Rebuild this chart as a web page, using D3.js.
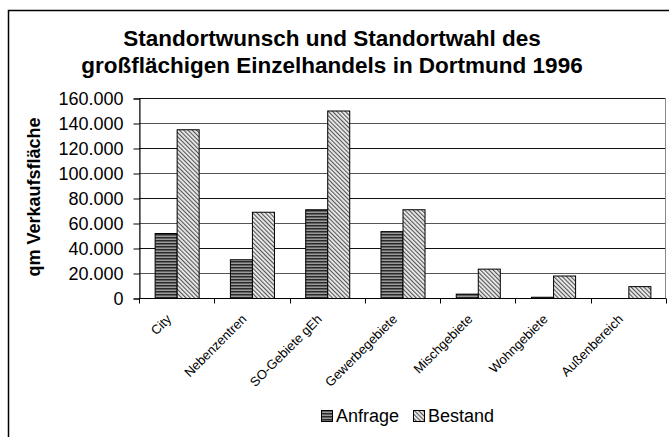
<!DOCTYPE html>
<html>
<head>
<meta charset="utf-8">
<script src="https://cdn.jsdelivr.net/npm/d3@7"></script>
<style>
  body { margin: 0; background: #fff; }
  svg { display: block; font-family: "Liberation Sans", Arial, sans-serif; }
</style>
</head>
<body>
<script>
// data
var categories = ["City", "Nebenzentren", "SO-Gebiete gEh", "Gewerbegebiete", "Mischgebiete", "Wohngebiete", "Außenbereich"];
var seriesNames = ["Anfrage", "Bestand"];
var anfrage = [52000, 31000, 71000, 53500, 3500, 1000, 0];
var bestand = [135000, 69000, 150000, 71000, 23500, 18000, 9500];
var yTicks = [0, 20000, 40000, 60000, 80000, 100000, 120000, 140000, 160000];

var W = 669, H = 437;
var plot = {left: 139, right: 666, top: 98, bottom: 298};

var svg = d3.select("body").append("svg")
    .attr("width", W)
    .attr("height", H);

var defs = svg.append("defs");

// horizontal stripes for Anfrage
var p1 = defs.append("pattern")
    .attr("id", "patA")
    .attr("patternUnits", "userSpaceOnUse")
    .attr("width", 4).attr("height", 3);
p1.append("rect").attr("width", 4).attr("height", 3).attr("fill", "#9a9a9a");
p1.append("rect").attr("width", 4).attr("height", 1.5).attr("fill", "#2a2a2a");

// fine diagonal hatch for Bestand ("\" direction)
var p2 = defs.append("pattern")
    .attr("id", "patB")
    .attr("patternUnits", "userSpaceOnUse")
    .attr("width", 3).attr("height", 3)
    .attr("patternTransform", "rotate(-45)");
p2.append("rect").attr("width", 3).attr("height", 3).attr("fill", "#ececec");
p2.append("rect").attr("width", 1.1).attr("height", 3).attr("fill", "#555");

var fills = ["url(#patA)", "url(#patB)"];

// outer chart border (runs off the right and bottom)
svg.append("path")
    .attr("d", "M8.5," + (H + 2) + "V10.5H" + (W + 2))
    .attr("fill", "none")
    .attr("stroke", "#000")
    .attr("stroke-width", 1.5);

// title
var title = svg.append("text")
    .attr("text-anchor", "middle")
    .attr("font-weight", "bold")
    .attr("font-size", 22.5)
    .attr("fill", "#000");
title.append("tspan").attr("x", 332).attr("y", 46).text("Standortwunsch und Standortwahl des");
title.append("tspan").attr("x", 332).attr("y", 73).text("großflächigen Einzelhandels in Dortmund 1996");

var x0 = d3.scaleBand()
    .domain(categories)
    .range([plot.left, plot.right])
    .paddingInner(0.415)
    .paddingOuter(0.2075);

var x1 = d3.scaleBand()
    .domain(seriesNames)
    .range([0, x0.bandwidth()]);

var y = d3.scaleLinear()
    .domain([0, 160000])
    .range([plot.bottom, plot.top]);

var fmt = function(v) { return d3.format(",")(v).replace(/,/g, "."); };

// plot area frame
svg.append("rect")
    .attr("x", plot.left + 0.5)
    .attr("y", plot.top + 0.5)
    .attr("width", plot.right - plot.left - 1)
    .attr("height", plot.bottom - plot.top)
    .attr("fill", "none")
    .attr("stroke", "#888");

// gridlines
svg.append("g").selectAll("line")
    .data(yTicks.filter(function(d) { return d > 0; }))
    .enter().append("line")
    .attr("x1", plot.left)
    .attr("x2", plot.right - 1)
    .attr("y1", function(d) { return Math.round(y(d)) + 0.5; })
    .attr("y2", function(d) { return Math.round(y(d)) + 0.5; })
    .attr("stroke", function(d, i) { return i % 2 == 0 ? "#555" : "#111"; })
    .attr("stroke-width", 1);

// bars
var rows = categories.map(function(c, i) {
    return {cat: c, values: [anfrage[i], bestand[i]]};
});

var groups = svg.append("g").selectAll("g")
    .data(rows)
    .enter().append("g")
    .attr("transform", function(d) { return "translate(" + x0(d.cat) + ",0)"; });

groups.selectAll("rect")
    .data(function(d) { return d.values.map(function(v, j) { return {name: seriesNames[j], value: v, j: j}; }); })
    .enter().filter(function(d) { return d.value > 0; })
    .append("rect")
    .attr("x", function(d) { return x1(d.name) + 0.5; })
    .attr("y", function(d) { return y(d.value) + 0.5; })
    .attr("width", x1.bandwidth())
    .attr("height", function(d) { return plot.bottom - y(d.value); })
    .attr("fill", function(d) { return fills[d.j]; })
    .attr("stroke", "#000")
    .attr("stroke-width", 1);

// y axis
var yAxis = svg.append("g")
    .attr("transform", "translate(" + (plot.left + 0.5) + ",0.5)")
    .call(d3.axisLeft(y).tickValues(yTicks).tickFormat(fmt).tickSizeOuter(0).tickSize(6).tickPadding(10));
yAxis.select(".domain").attr("stroke", "#000");
yAxis.selectAll("text").attr("font-size", 18).attr("fill", "#000").attr("font-family", "Liberation Sans, Arial, sans-serif");

// x axis
var xAxis = svg.append("g")
    .attr("transform", "translate(0," + (plot.bottom + 0.5) + ")");
xAxis.append("line")
    .attr("x1", plot.left).attr("x2", plot.right)
    .attr("stroke", "#000");
xAxis.selectAll("line.tick")
    .data(d3.range(categories.length + 1))
    .enter().append("line")
    .attr("class", "tick")
    .attr("x1", function(i) { return Math.round(plot.left + i * x0.step()) + 0.5; })
    .attr("x2", function(i) { return Math.round(plot.left + i * x0.step()) + 0.5; })
    .attr("y1", 0).attr("y2", 5)
    .attr("stroke", "#000");

xAxis.selectAll("text")
    .data(categories)
    .enter().append("text")
    .attr("transform", function(d) {
        var cx = x0(d) + x0.bandwidth() / 2;
        return "translate(" + (cx - 4.5) + ",21.5) rotate(-45)";
    })
    .attr("text-anchor", "end")
    .attr("font-size", 13)
    .attr("fill", "#000")
    .text(function(d) { return d; });

// y axis title
svg.append("text")
    .attr("transform", "translate(40,197) rotate(-90)")
    .attr("text-anchor", "middle")
    .attr("font-weight", "bold")
    .attr("font-size", 18)
    .attr("fill", "#000")
    .text("qm Verkaufsfläche");

// legend
var legendX = [321, 413];
var leg = svg.append("g").selectAll("g")
    .data(seriesNames)
    .enter().append("g")
    .attr("transform", function(d, i) { return "translate(" + legendX[i] + ",410)"; });
leg.append("rect")
    .attr("x", 0.5).attr("y", 0.5)
    .attr("width", 11).attr("height", 11)
    .attr("fill", function(d, i) { return fills[i]; })
    .attr("stroke", "#000");
leg.append("text")
    .attr("x", 15)
    .attr("y", 12)
    .attr("font-size", 18)
    .attr("fill", "#000")
    .text(function(d) { return d; });
</script>
</body>
</html>
